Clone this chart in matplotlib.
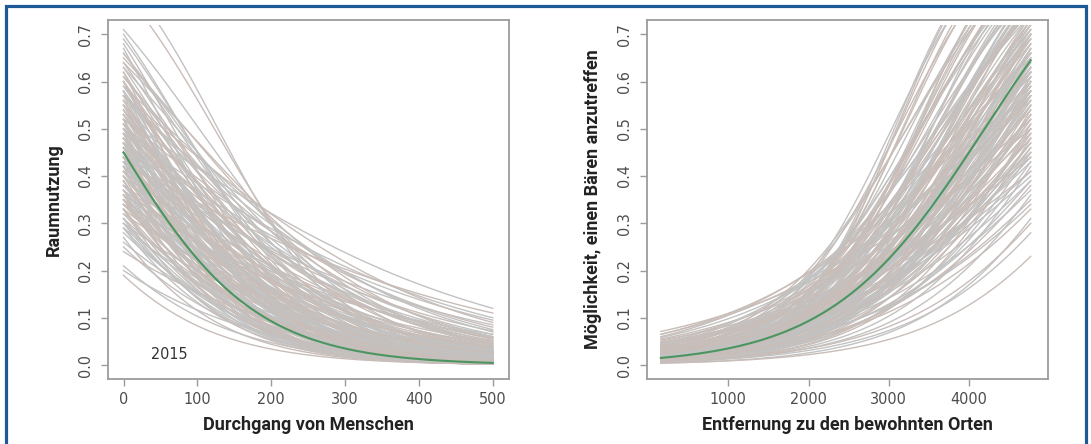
import numpy as np
import matplotlib.pyplot as plt
from matplotlib import font_manager
from matplotlib.patches import Rectangle

# ── left panel: Raumnutzung vs. Durchgang von Menschen ──
# every grey line is one fitted logistic curve, given by its value at x=0 and x=500
human_x = (0, 500)
human_start = [
    0.71, 0.46, 0.58, 0.33, 0.52, 0.64, 0.41, 0.27, 0.55, 0.49,
    0.62, 0.38, 0.44, 0.57, 0.30, 0.68, 0.50, 0.36, 0.47, 0.59,
    0.42, 0.53, 0.25, 0.61, 0.39, 0.45, 0.66, 0.34, 0.51, 0.48,
    0.56, 0.31, 0.43, 0.60, 0.37, 0.54, 0.29, 0.46, 0.63, 0.40,
    0.50, 0.35, 0.58, 0.44, 0.21, 0.65, 0.48, 0.32, 0.55, 0.41,
    0.47, 0.57, 0.38, 0.52, 0.28, 0.62, 0.45, 0.36, 0.70, 0.43,
    0.53, 0.33, 0.49, 0.60, 0.39, 0.46, 0.26, 0.56, 0.42, 0.51,
    0.37, 0.64, 0.44, 0.30, 0.54, 0.48, 0.67, 0.35, 0.59, 0.40,
    0.45, 0.52, 0.20, 0.61, 0.34, 0.50, 0.43, 0.57, 0.29, 0.47,
    0.55, 0.38, 0.63, 0.42, 0.31, 0.49, 0.58, 0.36, 0.53, 0.44,
    0.66, 0.40, 0.48, 0.24, 0.56, 0.33, 0.51, 0.45, 0.60, 0.37,
    0.52, 0.43, 0.69, 0.35, 0.47, 0.19, 0.57, 0.41, 0.82, 0.79,
    0.44, 0.36, 0.52, 0.40, 0.31, 0.47, 0.58, 0.34, 0.49, 0.42,
    0.39, 0.55, 0.46, 0.33, 0.50, 0.41, 0.29, 0.53, 0.37, 0.45,
    0.48, 0.35, 0.43, 0.57, 0.38, 0.51, 0.32, 0.46, 0.40, 0.54,
    0.42, 0.60, 0.36, 0.49, 0.30, 0.44, 0.52, 0.39, 0.47, 0.34,
]
human_end = [
    0.030, 0.012, 0.021, 0.004, 0.120, 0.016, 0.007, 0.002, 0.045, 0.009,
    0.010, 0.035, 0.005, 0.060, 0.011, 0.008, 0.026, 0.003, 0.095, 0.014,
    0.018, 0.007, 0.006, 0.035, 0.002, 0.072, 0.020, 0.024, 0.004, 0.040,
    0.011, 0.015, 0.085, 0.006, 0.009, 0.028, 0.003, 0.052, 0.012, 0.003,
    0.065, 0.008, 0.004, 0.022, 0.004, 0.045, 0.006, 0.040, 0.018, 0.058,
    0.002, 0.030, 0.013, 0.080, 0.009, 0.003, 0.031, 0.050, 0.012, 0.010,
    0.016, 0.030, 0.100, 0.018, 0.006, 0.005, 0.012, 0.008, 0.036, 0.048,
    0.020, 0.055, 0.002, 0.028, 0.013, 0.017, 0.004, 0.015, 0.070, 0.025,
    0.042, 0.002, 0.010, 0.025, 0.065, 0.011, 0.003, 0.090, 0.020, 0.027,
    0.006, 0.060, 0.042, 0.033, 0.003, 0.055, 0.009, 0.010, 0.024, 0.014,
    0.026, 0.012, 0.015, 0.020, 0.075, 0.002, 0.032, 0.008, 0.003, 0.045,
    0.005, 0.110, 0.015, 0.038, 0.060, 0.002, 0.050, 0.021, 0.012, 0.017,
    0.006, 0.010, 0.003, 0.015, 0.005, 0.008, 0.004, 0.019, 0.012, 0.002,
    0.004, 0.009, 0.020, 0.007, 0.003, 0.025, 0.006, 0.014, 0.002, 0.011,
    0.016, 0.004, 0.007, 0.005, 0.022, 0.013, 0.009, 0.003, 0.030, 0.006,
    0.003, 0.011, 0.017, 0.002, 0.004, 0.038, 0.008, 0.006, 0.012, 0.010,
]
human_fit = (0.45, 0.0045)

# ── right panel: Möglichkeit, einen Bären anzutreffen vs. Entfernung ──
# value of each curve at x=160 and at x=4770
dist_x = (160, 4770)
dist_start = [
    0.012, 0.025, 0.006, 0.040, 0.016, 0.009, 0.030, 0.010, 0.004, 0.055,
    0.018, 0.011, 0.035, 0.007, 0.022, 0.014, 0.048, 0.010, 0.028, 0.005,
    0.015, 0.032, 0.008, 0.019, 0.065, 0.012, 0.024, 0.006, 0.038, 0.008,
    0.021, 0.010, 0.044, 0.017, 0.027, 0.010, 0.033, 0.004, 0.014, 0.060,
    0.011, 0.026, 0.013, 0.007, 0.036, 0.020, 0.013, 0.050, 0.009, 0.012,
    0.030, 0.014, 0.006, 0.019, 0.042, 0.012, 0.025, 0.008, 0.017, 0.071,
    0.010, 0.022, 0.034, 0.015, 0.005, 0.028, 0.018, 0.011, 0.046, 0.013,
    0.024, 0.008, 0.009, 0.039, 0.012, 0.020, 0.006, 0.031, 0.014, 0.053,
    0.017, 0.027, 0.009, 0.013, 0.021, 0.036, 0.007, 0.015, 0.026, 0.011,
    0.019, 0.040, 0.012, 0.030, 0.008, 0.007, 0.058, 0.023, 0.010, 0.014,
    0.028, 0.006, 0.018, 0.011, 0.034, 0.015, 0.024, 0.009, 0.044, 0.020,
    0.013, 0.032, 0.017, 0.007, 0.025, 0.048, 0.010, 0.021, 0.015, 0.065,
    0.014, 0.020, 0.009, 0.026, 0.012, 0.017, 0.007, 0.022, 0.011, 0.016,
    0.010, 0.024, 0.013, 0.018, 0.008, 0.029, 0.015, 0.012, 0.021, 0.009,
    0.019, 0.011, 0.025, 0.014, 0.007, 0.016, 0.022, 0.010, 0.013, 0.027,
    0.012, 0.017, 0.009, 0.023, 0.015, 0.011, 0.020, 0.008, 0.018, 0.013,
]
dist_end = [
    0.78, 0.55, 0.42, 0.62, 0.88, 0.50, 0.71, 0.93, 0.31, 0.52,
    0.66, 0.84, 0.58, 0.60, 0.47, 0.73, 0.45, 0.57, 0.82, 0.70,
    0.52, 0.68, 0.80, 0.90, 0.56, 0.38, 0.62, 0.48, 0.75, 0.94,
    0.76, 0.64, 0.49, 0.35, 0.86, 0.92, 0.40, 0.23, 0.61, 0.65,
    0.72, 0.44, 0.87, 0.54, 0.66, 0.58, 0.79, 0.60, 0.43, 0.91,
    0.51, 0.69, 0.36, 0.84, 0.74, 0.46, 0.83, 0.77, 0.53, 0.50,
    0.89, 0.63, 0.41, 0.57, 0.67, 0.79, 0.34, 0.61, 0.69, 0.81,
    0.48, 0.73, 0.94, 0.59, 0.56, 0.71, 0.28, 0.85, 0.39, 0.44,
    0.62, 0.70, 0.55, 0.68, 0.37, 0.54, 0.86, 0.47, 0.76, 0.88,
    0.82, 0.66, 0.49, 0.75, 0.45, 0.90, 0.58, 0.53, 0.70, 0.33,
    0.60, 0.51, 0.80, 0.87, 0.43, 0.63, 0.39, 0.74, 0.57, 0.84,
    0.67, 0.48, 0.92, 0.30, 0.72, 0.41, 0.59, 0.65, 0.78, 0.61,
    0.62, 0.70, 0.58, 0.75, 0.66, 0.55, 0.80, 0.60, 0.72, 0.49,
    0.68, 0.63, 0.77, 0.52, 0.71, 0.57, 0.64, 0.82, 0.46, 0.60,
    0.74, 0.53, 0.66, 0.85, 0.63, 0.69, 0.56, 0.78, 0.59, 0.50,
    0.65, 0.73, 0.61, 0.58, 0.81, 0.70, 0.45, 0.67, 0.62, 0.76,
]
dist_fit = (0.015, 0.645)

CURVE_TOP = 0.72
GREY = ["#c2c2c2", "#c9bdb8"]
GREEN = "#4b9560"
AXIS_GREY = "#9c9c9c"
TICK_TEXT = "#4d4d4d"
BORDER = "#1d5a95"

available = {f.name for f in font_manager.fontManager.ttflist}
if "Liberation Sans Narrow" in available:
    tick_font = dict(family="Liberation Sans Narrow", size=12)
else:
    tick_font = dict(family="DejaVu Sans", stretch="condensed", size=11.5)
label_font = dict(family="Roboto", weight="bold", size=13, color="#222222")


def logit(p):
    p = np.asarray(p, dtype=float)
    return np.log(p / (1 - p))


def draw_curve(ax, xr, p0, p1, clip, **kw):
    x = np.linspace(xr[0], xr[1], 150)
    z = logit(p0) + (x - xr[0]) / (xr[1] - xr[0]) * (logit(p1) - logit(p0))
    line, = ax.plot(x, 1 / (1 + np.exp(-z)), **kw)
    line.set_clip_path(clip)


def panel(ax, xr, starts, ends, fit, xlim, xticks, xlabel, ylabel):
    ax.set_xlim(*xlim)
    ax.set_ylim(-0.0296, 0.7303)
    clip = Rectangle((xlim[0], -0.1), xlim[1] - xlim[0], CURVE_TOP + 0.1,
                     transform=ax.transData)
    for i, (p0, p1) in enumerate(zip(starts, ends)):
        draw_curve(ax, xr, p0, p1, clip, color=GREY[i % 2], lw=1.0, zorder=1)
    draw_curve(ax, xr, fit[0], fit[1], clip, color=GREEN, lw=1.5, zorder=3)

    ax.set_xticks(xticks)
    ax.set_yticks(np.arange(0, 0.71, 0.1))
    ax.set_yticklabels([f"{v:.1f}" for v in ax.get_yticks()])
    for s in ax.spines.values():
        s.set_color(AXIS_GREY)
        s.set_linewidth(1.3)
    ax.tick_params(colors=AXIS_GREY, length=5, width=1.0)
    ax.tick_params(axis="x", pad=4)
    ax.tick_params(axis="y", pad=6, labelrotation=90)
    for lab in ax.get_xticklabels() + ax.get_yticklabels():
        lab.set(color=TICK_TEXT, **tick_font)
    for lab in ax.get_yticklabels():
        lab.set_va("center")

    ax.set_xlabel(xlabel, va="center", **label_font)
    ax.xaxis.set_label_coords(0.5, -0.128)
    ax.set_ylabel(ylabel, va="center", **label_font)
    ax.yaxis.set_label_coords(-0.135, 0.5)


fig = plt.figure(figsize=(10.91, 4.44), dpi=100)
fig.patch.set_facecolor("white")

ax1 = fig.add_axes([108 / 1091, 65 / 444, 401 / 1091, 359 / 444])
ax2 = fig.add_axes([647 / 1091, 65 / 444, 401 / 1091, 359 / 444])

panel(ax1, human_x, human_start, human_end, human_fit, (-21, 522),
      [0, 100, 200, 300, 400, 500], "Durchgang von Menschen", "Raumnutzung")
panel(ax2, dist_x, dist_start, dist_end, dist_fit, (-13, 4985),
      [1000, 2000, 3000, 4000], "Entfernung zu den bewohnten Orten",
      "Möglichkeit, einen Bären anzutreffen")

ax1.text(62, 0.023, "2015", ha="center", va="center", color="#333333",
         **tick_font)

# blue frame round the figure (open at the bottom edge)
fig.add_artist(Rectangle((6 / 1091, -0.2), 1080 / 1091, 1.2 - 6 / 444,
                         transform=fig.transFigure, fill=False,
                         edgecolor=BORDER, lw=2.3, clip_on=False))

fig.savefig("out.png", dpi=100)
